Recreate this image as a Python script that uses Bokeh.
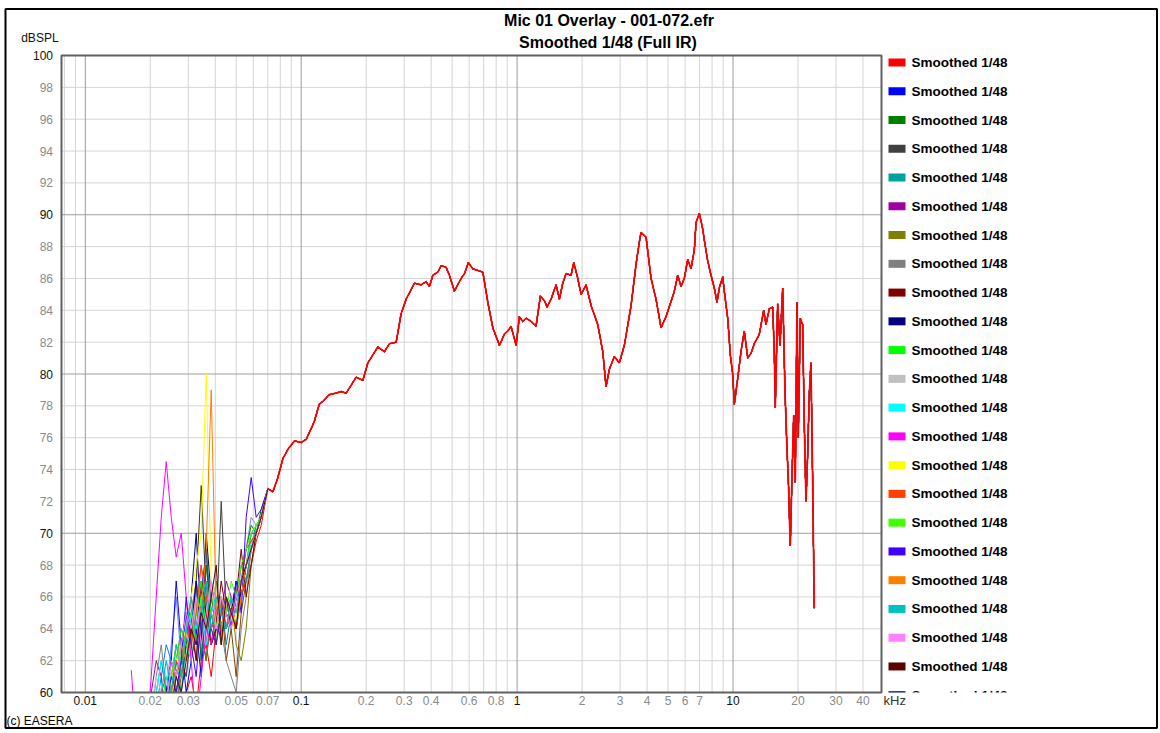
import math
from bokeh.plotting import figure
from bokeh.models import Range1d, Label
from bokeh.core.properties import value
from bokeh.embed import file_html
from bokeh.resources import INLINE

# ---------------- texts ----------------
title_line1 = "Mic 01 Overlay - 001-072.efr"
title_line2 = "Smoothed 1/48 (Full IR)"
y_unit_label = "dBSPL"
x_unit_label = "kHz"
credit_text = "(c) EASERA"
legend_label = "Smoothed 1/48"

# ---------------- ticks ----------------
x_decade_ticks = [0.01, 0.1, 1, 10]
x_gray_ticks = [0.02, 0.03, 0.05, 0.07, 0.2, 0.3, 0.4, 0.6, 0.8, 2, 3, 4, 5, 6, 7, 20, 30, 40]
x_minor_grid = [0.008, 0.009,
                0.02, 0.03, 0.04, 0.05, 0.06, 0.07, 0.08, 0.09,
                0.2, 0.3, 0.4, 0.5, 0.6, 0.7, 0.8, 0.9,
                2, 3, 4, 5, 6, 7, 8, 9,
                20, 30, 40]
y_black_ticks = [60, 70, 80, 90, 100]
y_gray_ticks = [62, 64, 66, 68, 72, 74, 76, 78, 82, 84, 86, 88, 92, 94, 96, 98]
Y_MIN, Y_MAX = 60, 100

# ---------------- data ----------------
# low-frequency part, individual for every measurement (kHz)
low_freq_khz = [0.01633, 0.01722, 0.01817, 0.01916, 0.02021, 0.02131, 0.02248, 0.02371,
                0.02501, 0.02637, 0.02782, 0.02934, 0.03094, 0.03264, 0.03443, 0.03631,
                0.03830, 0.04040, 0.04261, 0.04494, 0.04740, 0.05000, 0.05274, 0.05562,
                0.05867, 0.06188, 0.06527]

low_db_red        = [57, 57, 57, 57, 57, 57, 57, 57, 57, 57, 58, 60, 61, 59, 62, 63, 61, 64, 65, 64, 66, 65, 66, 67, 68, 69.5, 70.5]
low_db_blue       = [57, 57, 57, 57, 57, 57, 57, 60, 62, 67, 63, 60, 62, 64, 61, 66, 63, 65, 66, 64, 65, 67, 66, 68, 69, 70, 71]
low_db_green      = [57, 57, 57, 57, 57, 57, 58, 57, 59, 61, 63, 62, 64, 66, 62, 68, 65, 63, 66, 65, 64, 66, 67, 69, 70.5, 70, 71.5]
low_db_darkgray   = [57, 57, 57, 57, 57, 57, 57, 58, 60, 59, 62, 61, 64, 63, 66, 69, 63, 64, 72, 65, 66, 64, 67, 68, 69, 70, 71]
low_db_teal       = [57, 57, 57, 57, 57, 58, 60, 59, 61, 62, 60, 63, 65, 64, 66, 64, 67, 65, 64, 66, 65, 66, 68, 67, 69, 70.5, 71]
low_db_purple     = [57, 57, 57, 57, 60, 62, 61, 58, 60, 62, 63, 65, 62, 64, 67, 63, 66, 64, 65, 67, 66, 65, 67, 68, 70, 70, 71]
low_db_olive      = [57, 57, 57, 57, 57, 57, 57, 59, 61, 60, 62, 64, 63, 66, 64, 62, 65, 67, 64, 65, 66, 63, 62, 64, 68, 70, 71]
low_db_gray       = [57, 57, 57, 57, 58, 61, 63, 60, 58, 61, 63, 62, 65, 67, 64, 66, 63, 65, 64, 62, 61, 60, 64, 66, 69, 70, 71]
low_db_maroon     = [57, 57, 57, 57, 57, 57, 58, 57, 60, 62, 61, 63, 64, 62, 66, 65, 63, 64, 67, 65, 64, 66, 69, 66, 68, 70, 71]
low_db_navy       = [57, 57, 57, 57, 57, 57, 57, 60, 62, 61, 63, 65, 64, 67, 63, 70, 66, 65, 64, 66, 65, 67, 66, 68, 69, 70, 71]
low_db_lime       = [57, 57, 57, 57, 57, 57, 59, 61, 60, 62, 64, 63, 62, 65, 67, 64, 66, 65, 64, 66, 65, 66, 67, 68, 70, 70.5, 71]
low_db_silver     = [57, 57, 57, 57, 59, 61, 60, 62, 61, 59, 63, 64, 62, 66, 65, 64, 67, 66, 64, 65, 66, 65, 67, 68, 69, 70, 71]
low_db_cyan       = [57, 57, 57, 57, 58, 60, 62, 61, 59, 61, 63, 62, 65, 64, 66, 63, 65, 66, 64, 66, 65, 66, 67, 68, 69.5, 70, 71]
low_db_magenta    = [61.4, 57, 57, 57, 61, 66, 71, 74.5, 71, 68.5, 70, 66, 62, 58, 61, 64, 63, 65, 66, 64, 65, 66, 67, 68, 69, 70, 71]
low_db_yellow     = [57, 57, 57, 57, 57, 57, 58, 59, 61, 62, 63, 64, 66, 68, 70, 80, 67, 64, 65, 66, 64, 65, 67, 68, 69, 70, 71]
low_db_orangered  = [57, 57, 57, 57, 57, 57, 57, 58, 60, 62, 61, 64, 63, 65, 68, 66, 64, 65, 66, 64, 65, 66, 67, 69, 69.5, 70, 71]
low_db_chartreuse = [57, 57, 57, 57, 57, 58, 57, 59, 61, 63, 62, 64, 65, 63, 66, 67, 65, 64, 66, 65, 67, 66, 68, 69, 70, 70.5, 71]
low_db_blueviolet = [57, 57, 57, 57, 57, 57, 57, 59, 61, 60, 62, 66, 63, 61, 65, 67, 64, 63, 65, 66, 64, 67, 65, 71, 73.5, 71, 71.5]
low_db_orange     = [57, 57, 57, 57, 57, 57, 57, 58, 60, 61, 63, 62, 64, 66, 65, 69, 79, 65, 64, 66, 65, 64, 66, 68, 69, 70, 71]
low_db_turquoise  = [57, 57, 57, 57, 57, 59, 60, 62, 60, 63, 61, 64, 66, 63, 65, 67, 64, 66, 65, 64, 66, 65, 67, 68, 69, 70, 71]
low_db_violet     = [57, 57, 57, 57, 57, 57, 60, 59, 62, 61, 63, 65, 64, 66, 63, 65, 67, 64, 66, 65, 64, 66, 67, 68, 69, 70, 71]
low_db_darkmaroon = [57, 57, 57, 57, 57, 57, 57, 57, 59, 61, 60, 62, 64, 63, 65, 64, 66, 68, 63, 66, 65, 64, 67, 68, 69, 70, 71]

# further measurements (not in the visible part of the legend)
low_db_extra_1 = [57, 57, 57, 57, 57, 57, 57, 57, 58, 60, 62, 64, 66, 70, 64, 62, 65, 66, 64, 65, 64, 66, 67, 68, 69, 70, 71]
low_db_extra_2 = [57, 57, 57, 57, 57, 60, 62, 60, 61, 63, 62, 65, 63, 67, 62, 66, 64, 65, 66, 63, 65, 66, 67, 68, 69.5, 70, 71]
low_db_extra_3 = [57, 57, 57, 57, 57, 57, 57, 58, 60, 59, 61, 63, 65, 62, 67, 65, 63, 64, 66, 62, 64, 61, 65, 67, 69, 70, 71]
low_db_extra_4 = [57, 57, 57, 57, 57, 57, 59, 60, 63, 66, 62, 61, 64, 66, 68, 64, 65, 66, 64, 65, 66, 65, 68, 69, 71, 70.5, 71]
low_db_extra_5 = [57, 57, 57, 57, 58, 57, 60, 61, 60, 62, 64, 63, 66, 64, 65, 68, 66, 65, 64, 66, 65, 66, 67, 68, 69, 70, 71]
low_db_extra_6 = [57, 57, 57, 57, 57, 57, 57, 59, 61, 62, 60, 64, 63, 65, 67, 64, 66, 64, 65, 66, 64, 65, 66, 68, 69, 70, 71]
low_db_extra_7 = [57, 57, 57, 57, 57, 57, 58, 57, 59, 61, 63, 62, 64, 67, 73, 66, 64, 65, 63, 66, 65, 64, 66, 68, 69, 70, 71]
low_db_extra_8 = [57, 57, 57, 57, 57, 59, 61, 63, 62, 60, 62, 65, 64, 63, 66, 69, 65, 64, 66, 65, 64, 66, 67, 68, 69, 70, 71]

# common response above ~70 Hz (all measurements coincide there)
main_freq_khz = [0.0701, 0.0740, 0.0780, 0.0823, 0.0871, 0.0931, 0.1000, 0.1055, 0.1149, 0.1212,
                 0.1264, 0.1348, 0.1452, 0.1532, 0.1616, 0.1797, 0.1930, 0.2036, 0.2265, 0.2430,
                 0.2563, 0.2754, 0.2904, 0.3062, 0.3346, 0.3594, 0.3791, 0.3926, 0.4072, 0.4295,
                 0.4447, 0.4690, 0.4859, 0.5125, 0.5504, 0.5702, 0.5950, 0.6236, 0.6577, 0.6937,
                 0.7318, 0.7720, 0.8283, 0.8735, 0.9056, 0.9380, 0.9716, 0.9894, 1.025, 1.063,
                 1.101, 1.161, 1.224, 1.282, 1.338, 1.377, 1.437, 1.516, 1.570, 1.627,
                 1.686, 1.778, 1.830, 1.910, 1.979, 2.086, 2.201, 2.364, 2.494, 2.582,
                 2.675, 2.821, 2.976, 3.139, 3.372, 3.556, 3.684, 3.751, 3.956, 4.173,
                 4.401, 4.642, 4.896, 5.349, 5.546, 5.744, 5.950, 6.170, 6.392, 6.621,
                 6.742, 6.984, 7.241, 7.365, 7.636, 7.910, 8.193, 8.432, 8.643, 8.960,
                 9.114, 9.452, 9.717, 9.967, 10.14, 10.51, 10.89, 11.28, 11.70, 12.12,
                 12.55, 13.24, 13.87, 14.22, 14.73, 15.27, 15.53, 15.70, 16.10, 16.51,
                 16.99, 17.41, 17.78, 18.03, 18.42, 18.76, 19.10, 19.43, 19.79, 20.06,
                 20.50, 21.02, 21.38, 21.78, 22.17, 22.55, 22.96, 23.39, 23.79]
main_db = [72.8, 72.6, 73.5, 74.7, 75.3, 75.8, 75.7, 75.9, 77.0, 78.1,
           78.3, 78.7, 78.8, 78.9, 78.8, 79.8, 79.6, 80.7, 81.7, 81.4,
           81.9, 82.0, 83.8, 84.7, 85.7, 85.6, 85.8, 85.5, 86.2, 86.4,
           86.8, 86.7, 86.2, 85.2, 86.0, 86.3, 87.0, 86.6, 86.5, 86.4,
           84.5, 82.9, 81.8, 82.5, 82.7, 83.0, 82.2, 81.8, 83.6, 83.3,
           83.5, 83.3, 83.0, 84.9, 84.6, 84.2, 84.7, 85.6, 84.7, 85.7,
           86.3, 86.2, 87.0, 86.0, 85.0, 85.6, 84.3, 83.1, 81.4, 79.2,
           80.3, 81.1, 80.7, 81.8, 84.3, 86.9, 88.3, 88.9, 88.6, 86.0,
           84.7, 82.9, 83.6, 85.2, 86.2, 85.5, 86.0, 87.2, 86.6, 87.8,
           89.5, 90.1, 89.1, 88.4, 87.1, 86.2, 85.4, 84.5, 85.4, 86.1,
           85.2, 83.5, 81.2, 80.0, 78.1, 79.7, 81.4, 82.7, 81.0, 81.3,
           81.9, 82.5, 84.0, 83.1, 84.1, 84.2, 81.4, 77.9, 84.4, 81.8,
           85.4, 78.9, 75.3, 73.5, 69.2, 73.5, 77.4, 73.2, 84.5, 76.0,
           83.5, 83.1, 77.0, 72.0, 74.9, 78.7, 80.7, 73.2, 65.3]

series_colors = ["#ff0000", "#0000ff", "#008000", "#404040", "#00a0a0", "#a000a0",
                 "#808000", "#808080", "#800000", "#000080", "#00ff00", "#c0c0c0",
                 "#00ffff", "#ff00ff", "#ffff00", "#ff4000", "#40ff00", "#4000ff",
                 "#ff8000", "#00c0c0", "#ff80ff", "#600000"]
series_low_db = [low_db_red, low_db_blue, low_db_green, low_db_darkgray, low_db_teal,
                 low_db_purple, low_db_olive, low_db_gray, low_db_maroon, low_db_navy,
                 low_db_lime, low_db_silver, low_db_cyan, low_db_magenta, low_db_yellow,
                 low_db_orangered, low_db_chartreuse, low_db_blueviolet, low_db_orange,
                 low_db_turquoise, low_db_violet, low_db_darkmaroon]
extra_colors = ["#000080", "#008080", "#804000", "#8080ff", "#ff0080", "#80ff80",
                "#404000", "#0080ff"]
extra_low_db = [low_db_extra_1, low_db_extra_2, low_db_extra_3, low_db_extra_4,
                low_db_extra_5, low_db_extra_6, low_db_extra_7, low_db_extra_8]
# legend shows 22 entries plus a cut-off 23rd one (navy)
legend_colors = series_colors + ["#000080"]

# ---------------- page geometry (pixels of the 1160x733 page) ----------------
W, H = 1160, 733
PX_AT_10HZ = 84.8          # x of 0.01 kHz
PX_PER_DECADE = 215.9
PX_AT_60DB = 692.0
PX_PER_DB = 15.925
FONT = "Liberation Sans"


def kx(px):
    """page x pixel -> kHz on the log axis"""
    return 10 ** (-2 + (px - PX_AT_10HZ) / PX_PER_DECADE)


def dy(py):
    """page y pixel -> dB on the linear axis"""
    return Y_MIN + (PX_AT_60DB - py) / PX_PER_DB


p = figure(width=W, height=H, x_axis_type="log",
           x_range=Range1d(kx(0), kx(W)), y_range=Range1d(dy(H), dy(0)),
           x_axis_location=None, y_axis_location=None, min_border=0,
           output_backend="svg", toolbar_location=None, tools="")
p.outline_line_color = None
p.background_fill_color = "#ffffff"
p.border_fill_color = "#ffffff"
p.grid.visible = False

GX0, GX1 = kx(61), kx(881)     # horizontal extent of the graph area

# ---- grid (from the tick lists) ----
p.segment(x0=x_minor_grid, x1=x_minor_grid, y0=[Y_MIN] * len(x_minor_grid),
          y1=[Y_MAX] * len(x_minor_grid), line_color="#d4d4d4", line_width=1, level="underlay")
p.segment(x0=[GX0] * len(y_gray_ticks), x1=[GX1] * len(y_gray_ticks), y0=y_gray_ticks,
          y1=y_gray_ticks, line_color="#d4d4d4", line_width=1, level="underlay")
p.segment(x0=x_decade_ticks, x1=x_decade_ticks, y0=[Y_MIN] * len(x_decade_ticks),
          y1=[Y_MAX] * len(x_decade_ticks), line_color="#9c9c9c", line_width=1, level="underlay")
p.segment(x0=[GX0] * len(y_black_ticks), x1=[GX1] * len(y_black_ticks), y0=y_black_ticks,
          y1=y_black_ticks, line_color="#9c9c9c", line_width=1, level="underlay")

# ---- curves ----
for color, low in zip(extra_colors, extra_low_db):
    p.line(low_freq_khz + main_freq_khz, low + main_db, line_color=color, line_width=1)
for color, low in zip(series_colors, series_low_db):
    p.line(low_freq_khz + main_freq_khz, low + main_db, line_color=color, line_width=1)
p.line(main_freq_khz, main_db, line_color=series_colors[0], line_width=1.7)

# ---- legend ----
n_leg = len(legend_colors)
leg_y = [dy(62 + 28.76 * k) for k in range(n_leg)]
half = 4 / PX_PER_DB
p.quad(left=[kx(888)] * n_leg, right=[kx(905)] * n_leg,
       top=[v + half for v in leg_y], bottom=[v - half for v in leg_y],
       fill_color=legend_colors, line_color=None)
p.text(x=[kx(911)] * n_leg, y=leg_y, text=[legend_label] * n_leg,
       text_font=value(FONT), text_font_style="bold", text_font_size="13.5px",
       text_color="#000000", text_baseline="middle", text_align="left")

# ---- white mask below the graph (clips curves and the last legend row) ----
p.quad(left=[kx(0)], right=[kx(W)], top=[Y_MIN], bottom=[dy(H)],
       fill_color="#ffffff", line_color=None, level="guide")

# ---- graph frame and page border ----
p.quad(left=[GX0], right=[GX1], top=[Y_MAX], bottom=[Y_MIN], fill_alpha=0,
       line_color="#606060", line_width=2, level="overlay")
p.quad(left=[kx(5)], right=[kx(1156.5)], top=[dy(8.5)], bottom=[dy(727.5)], fill_alpha=0,
       line_color="#000000", line_width=2, level="overlay")

# ---- tick labels ----
p.text(x=x_gray_ticks, y=[dy(699.5)] * len(x_gray_ticks), text=[f"{v:g}" for v in x_gray_ticks],
       text_font=value(FONT), text_font_size="12px", text_color="#8a8a8a",
       text_align="center", text_baseline="middle", level="overlay")
p.text(x=x_decade_ticks, y=[dy(699.5)] * len(x_decade_ticks), text=[f"{v:g}" for v in x_decade_ticks],
       text_font=value(FONT), text_font_size="12px", text_color="#111111",
       text_align="center", text_baseline="middle", level="overlay")
p.text(x=[kx(52.5)] * len(y_gray_ticks), y=y_gray_ticks, text=[str(v) for v in y_gray_ticks],
       text_font=value(FONT), text_font_size="12px", text_color="#8a8a8a",
       text_align="right", text_baseline="middle", level="overlay")
p.text(x=[kx(52.5)] * len(y_black_ticks), y=y_black_ticks, text=[str(v) for v in y_black_ticks],
       text_font=value(FONT), text_font_size="12px", text_color="#111111",
       text_align="right", text_baseline="middle", level="overlay")

# ---- titles and other texts ----
for txt, px, py, size, bold, color, align in [
        (title_line1, 608.5, 19.5, "16px", True, "#000000", "center"),
        (title_line2, 607.5, 41.5, "16px", True, "#000000", "center"),
        (y_unit_label, 20.7, 37.5, "12px", False, "#111111", "left"),
        (x_unit_label, 883, 700, "13px", False, "#333333", "left"),
        (credit_text, 6, 720, "12px", False, "#000000", "left")]:
    p.add_layout(Label(x=kx(px), y=dy(py), text=txt, text_align=align,
                       text_baseline="middle", text_font=FONT,
                       text_font_style="bold" if bold else "normal",
                       text_font_size=size, text_color=color))

open("out.html", "w").write(file_html(p, INLINE))
